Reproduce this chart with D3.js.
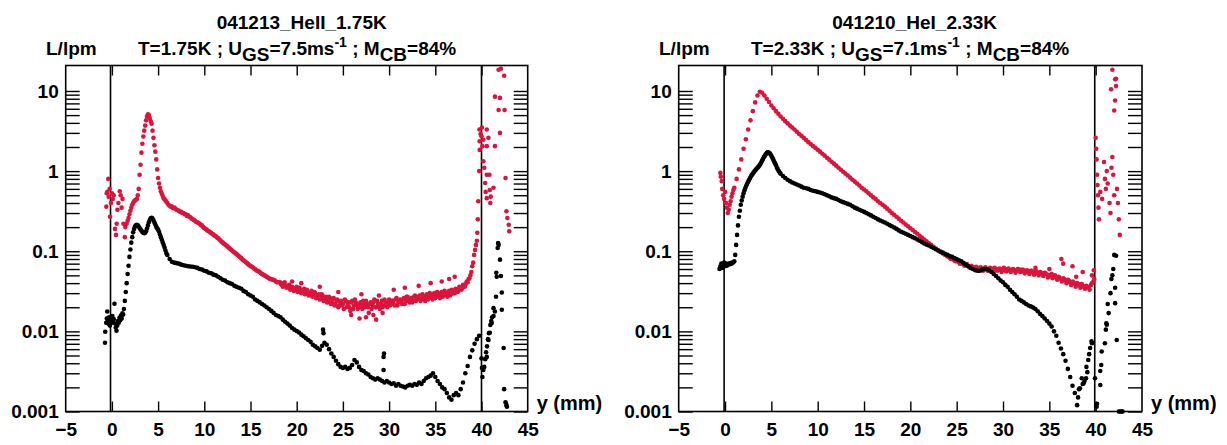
<!DOCTYPE html>
<html><head><meta charset="utf-8">
<script src="https://cdn.jsdelivr.net/npm/d3@7"></script>
<style>
html,body{margin:0;padding:0;background:#fff;}
svg{display:block;}
text{font-family:"Liberation Sans",Arial,sans-serif;font-weight:bold;fill:#000;}
</style></head><body>
<svg id="chart" width="1227" height="445"></svg>
<script>
// ---------------- DATA ----------------
const xTickValues = [-5,0,5,10,15,20,25,30,35,40,45];
const yDecades = [0.001,0.01,0.1,1,10];
const yDecadeLabels = ["0.001","0.01","0.1","1","10"];
const yUnit = "L/lpm";
const xUnit = "y (mm)";

const titles = ["041213_HeII_1.75K","041210_HeI_2.33K"];
const subT = ["1.75K","2.33K"];
const subU = ["7.5","7.1"];
const subM = ["84%","84%"];
const walls = [[-0.15,40.0],[-0.1,39.9]];

// panel 1, black series
const p1BlackWall0 = [[-0.75,0.0072],[-0.72,0.0099],[-0.62,0.0128],[-0.55,0.0145],[-0.5,0.0177],[-0.45,0.0135],[-0.38,0.0125],[-0.3,0.015],[-0.22,0.0118],[-0.12,0.0138],[-0.05,0.0128],[0.05,0.0155],[0.12,0.013],[0.2,0.0142],[0.28,0.0221],[0.35,0.0125],[0.42,0.0112],[0.5,0.0102],[0.58,0.0118],[0.66,0.0135],[0.74,0.0128],[0.82,0.0148],[0.9,0.0138],[0.98,0.0158],[1.06,0.0145],[1.14,0.0168],[1.22,0.0162],[1.3,0.019]];
const p1BlackRise = [0.024,0.031,0.04,0.052,0.066,0.085,0.105,0.128,0.15,0.172,0.19,0.203,0.211,0.214,0.21,0.203,0.195,0.187,0.18,0.174,0.17,0.168,0.17,0.178,0.192,0.21,0.23,0.247,0.258,0.262,0.255,0.243,0.229,0.215,0.202,0.193,0.186,0.175,0.162,0.15,0.139,0.129,0.12,0.111,0.102,0.094]; // x = 1.4 .. step 0.1
const p1BlackMain = [0.09,0.08,0.074,0.072,0.071,0.07,0.068,0.067,0.066,0.065,0.0645,0.064,0.063,0.062,0.06,0.059,0.057,0.056,0.054,0.053,0.051,0.05,0.048,0.046,0.044,0.043,0.041,0.04,0.039,0.037,0.036,0.035,0.034,0.032,0.031,0.029,0.028,0.027,0.025,0.024,0.023,0.022,0.021,0.02,0.019,0.018,0.017,0.016,0.0155,0.015,0.014,0.0132,0.0125,0.0118,0.011,0.0105,0.0101,0.0097,0.0091,0.0087,0.0082,0.0078,0.0074,0.0068,0.0065,0.0062,0.0059,0.0066,0.0072,0.0068,0.006,0.0053,0.0048,0.0043,0.0039,0.0036,0.0035,0.0036,0.0034,0.0035,0.0038,0.0044,0.0041,0.0036,0.0033,0.0032,0.003,0.0029,0.0027,0.0026,0.0025,0.0026,0.0025,0.0024,0.0023,0.0024,0.0023,0.0022,0.00225,0.0021,0.0022,0.0021,0.00205,0.002,0.0021,0.00215,0.0021,0.0022,0.00215,0.0023,0.0022,0.0024,0.0026,0.0027,0.0028,0.003,0.0027,0.0024,0.0022,0.002,0.0019,0.0017,0.0015,0.0014,0.0016,0.0017,0.0016,0.0019,0.0023,0.003,0.0037,0.0048,0.0058,0.007,0.008,0.0088]; // x = 6.0 .. step 0.25
const p1BlackOut = [[22.85,0.0105],[22.9,0.0095],[29.4,0.0048],[29.45,0.0053],[29.4,0.0033]];
const p1BlackWall40 = [[40.0,0.0046],[40.05,0.0035],[40.1,0.0027],[40.2,0.0033],[40.3,0.0036],[40.4,0.0045],[40.5,0.0055],[40.57,0.0048],[40.6,0.0065],[40.7,0.008],[40.75,0.0078],[40.8,0.0095],[40.9,0.0096],[40.95,0.012],[41.05,0.0135],[41.1,0.0127],[41.15,0.015],[41.3,0.0155],[41.3,0.0195],[41.45,0.0177],[41.57,0.027],[41.6,0.054],[41.65,0.048],[41.75,0.11],[41.8,0.127],[41.85,0.12],[42.0,0.0785],[42.1,0.049],[42.2,0.0305],[42.2,0.0186],[42.4,0.0062],[42.45,0.0019],[42.6,0.0013],[42.7,0.0012],[42.75,0.00115]];

// panel 1, red series
const p1RedWall0 = [[-0.6,0.36],[-0.56,0.53],[-0.5,0.55],[-0.39,0.8],[-0.35,0.48],[-0.25,0.6],[-0.2,0.27],[-0.1,0.4],[0.0,0.53],[0.1,0.45],[0.2,0.5],[0.34,0.19],[0.45,0.16],[0.52,0.22],[0.6,0.33],[0.7,0.4],[0.85,0.56],[0.95,0.5],[1.05,0.35],[1.15,0.45],[1.25,0.22],[1.4,0.15],[1.45,0.2]];
const p1RedRise = [0.22,0.24,0.26,0.29,0.32,0.35,0.38,0.4,0.42,0.43,0.44,0.45,0.5,0.6,0.9,1.2,1.7,2.2,2.7,3.2,3.7,4.3,4.8,5.1,5.0,4.6,4.2,3.9,3.2,2.6,2.1,1.75,1.4,1.05,0.82,0.7,0.62,0.56,0.52,0.49,0.46,0.445,0.43,0.415]; // x = 1.6 .. step 0.1
const p1RedMain = [0.4,0.37,0.36,0.35,0.33,0.32,0.31,0.3,0.29,0.28,0.265,0.25,0.24,0.23,0.22,0.21,0.195,0.186,0.178,0.17,0.161,0.154,0.146,0.136,0.128,0.121,0.115,0.108,0.102,0.097,0.092,0.087,0.082,0.077,0.073,0.069,0.066,0.063,0.06,0.057,0.055,0.052,0.05,0.048,0.046,0.045,0.044,0.042,0.041]; // x = 6.0 .. step 0.25
const p1RedMainB = [0.38,0.36,0.345,0.34,0.325,0.31,0.3,0.29,0.275,0.27,0.255,0.245,0.232,0.225,0.212,0.2,0.19,0.18,0.172,0.164,0.156,0.148,0.14,0.131,0.124,0.118,0.111,0.105,0.099,0.094,0.089,0.084,0.079,0.075,0.071,0.067,0.064,0.061,0.058,0.056,0.053,0.051,0.049,0.047,0.045,0.044,0.043,0.041]; // x = 6.125 .. step 0.25
const p1RedBand = [0.041,0.038,0.04,0.037,0.036,0.038,0.034,0.035,0.033,0.036,0.032,0.033,0.031,0.034,0.03,0.031,0.029,0.032,0.028,0.03,0.027,0.029,0.026,0.028,0.025,0.027,0.024,0.026,0.023,0.026,0.022,0.025,0.021,0.024,0.022,0.025,0.02,0.023,0.018,0.024,0.021,0.023,0.019,0.022,0.021,0.024,0.02,0.022,0.017,0.023,0.021,0.025,0.02,0.022,0.019,0.024,0.021,0.023,0.02,0.025,0.022,0.024,0.021,0.026,0.023,0.025,0.022,0.026,0.024,0.027,0.023,0.026,0.024,0.028,0.025,0.027,0.024,0.029,0.026,0.028,0.025,0.03,0.027,0.029,0.026,0.031,0.028,0.03,0.027,0.032,0.029,0.031,0.028,0.033,0.03,0.034,0.031,0.036,0.033,0.038,0.036,0.042,0.045,0.05]; // x = 18.2 .. step 0.2
const p1RedBandB = [0.039,0.036,0.041,0.035,0.037,0.033,0.036,0.032,0.034,0.031,0.035,0.03,0.032,0.029,0.033,0.028,0.03,0.027,0.031,0.026,0.028,0.025,0.029,0.024,0.026,0.023,0.027,0.022,0.025,0.021,0.024,0.02,0.023,0.021,0.019,0.024,0.022,0.02,0.023,0.019,0.025,0.021,0.02,0.023,0.019,0.022,0.024,0.02,0.022,0.019,0.023,0.02,0.024,0.021,0.022,0.02,0.025,0.021,0.023,0.021,0.024,0.022,0.025,0.021,0.024,0.023,0.025,0.022,0.027,0.024,0.025,0.023,0.027,0.024,0.026,0.028,0.025,0.027,0.024,0.029,0.026,0.028,0.025,0.03,0.027,0.029,0.026,0.031,0.028,0.03,0.027,0.032,0.029,0.031,0.03,0.033,0.032,0.035,0.034,0.037,0.039,0.041,0.046]; // x = 18.3 .. step 0.2
const p1RedOut = [[25.9,0.016],[26.8,0.0145],[27.5,0.015],[28.3,0.016],[28.6,0.014],[29.3,0.017],[30.5,0.033],[31.7,0.035],[33.2,0.037],[34.5,0.04],[35.7,0.042],[36.5,0.045],[37.1,0.048],[22.5,0.036],[24.5,0.031],[27.0,0.029],[28.9,0.028],[20.5,0.04],[19.5,0.042]];
const p1RedWall40 = [[38.9,0.055],[39.0,0.065],[39.1,0.072],[39.2,0.09],[39.3,0.104],[39.4,0.12],[39.5,0.135],[39.55,0.17],[39.6,0.25],[39.65,0.42],[39.75,1.0],[39.8,1.84],[39.8,2.36],[39.78,3.3],[39.9,2.9],[40.0,2.72],[40.05,3.5],[40.2,2.46],[40.1,2.05],[40.2,1.33],[40.4,0.71],[40.57,0.9],[40.85,0.9],[40.57,0.46],[40.9,0.58],[41.0,0.48],[41.3,0.62],[40.95,0.4],[40.57,3.3],[40.75,2.6],[40.57,2.05],[41.46,2.05],[42.0,3.0],[41.46,8.5],[42.0,8.2],[41.85,5.8],[42.5,5.8],[41.85,18.4],[42.1,19.0],[42.45,15.5],[42.6,0.82],[42.7,0.315],[42.8,0.26],[42.95,0.214],[43.0,0.177],[40.3,1.1],[40.45,0.55]];

// panel 2, black series
const p2BlackWall0 = [[-0.6,0.06],[-0.5,0.065],[-0.4,0.07],[-0.3,0.062],[-0.2,0.068],[-0.1,0.072],[0.0,0.065],[0.1,0.07],[0.2,0.066],[0.3,0.068],[0.4,0.07],[0.5,0.069],[0.6,0.071],[0.7,0.07],[0.8,0.072],[0.9,0.073]];
const p2BlackRise = [0.075,0.09,0.12,0.16,0.21,0.27,0.32,0.38,0.43,0.48,0.53,0.575,0.62,0.66,0.7,0.74,0.78,0.82,0.86,0.9,0.93,0.965,1.0,1.035,1.07,1.1,1.13,1.17,1.22,1.28,1.35,1.42,1.5,1.56,1.62,1.68,1.72,1.71,1.68,1.62,1.55,1.48,1.4,1.32,1.25,1.18,1.1,1.05,1.0,0.96]; // x = 1.0 .. step 0.1
const p2BlackMain = [0.93,0.87,0.82,0.78,0.75,0.72,0.7,0.68,0.66,0.64,0.62,0.61,0.6,0.58,0.57,0.56,0.55,0.54,0.53,0.515,0.5,0.485,0.47,0.46,0.45,0.435,0.42,0.41,0.4,0.39,0.38,0.365,0.35,0.34,0.33,0.32,0.31,0.3,0.29,0.28,0.27,0.26,0.25,0.242,0.235,0.228,0.22,0.212,0.205,0.198,0.19,0.182,0.175,0.17,0.165,0.16,0.155,0.15,0.145,0.14,0.135,0.13,0.125,0.121,0.118,0.114,0.11,0.106,0.102,0.099,0.096,0.093,0.09,0.087,0.085,0.082,0.08,0.077,0.075,0.071,0.068,0.065,0.062,0.06,0.058,0.057,0.057,0.059,0.06,0.06,0.058,0.055,0.052,0.049,0.046,0.043,0.041,0.038,0.036,0.033,0.031,0.029,0.027,0.025,0.024,0.023,0.022,0.021,0.0205,0.0198,0.019,0.0178,0.0165,0.0155,0.0145,0.0135,0.0125,0.0115,0.01,0.0088,0.0072,0.0061,0.0052,0.0043,0.0034,0.0027,0.0021,0.0017,0.0012]; // x = 6.0 .. step 0.25
const p2BlackWall40 = [[38.1,0.0015],[38.2,0.0019],[38.3,0.00195],[38.5,0.0026],[38.6,0.0022],[38.7,0.00225],[38.8,0.0024],[38.96,0.0026],[39.0,0.0036],[39.1,0.0031],[39.2,0.0044],[39.3,0.0052],[39.4,0.0062],[39.55,0.0075],[39.6,0.0071],[39.93,0.0026],[40.1,0.00115],[40.15,0.00125],[40.5,0.00214],[40.5,0.0032],[40.6,0.0038],[40.65,0.0056],[41.0,0.0071],[41.1,0.0105],[41.2,0.0121],[41.15,0.0126],[41.3,0.022],[41.4,0.0169],[41.6,0.03],[41.7,0.045],[41.8,0.05],[41.9,0.06],[42.0,0.09],[42.2,0.088],[42.1,0.035],[42.1,0.0225],[42.27,0.0078],[42.5,0.001],[42.65,0.001],[42.8,0.001],[42.9,0.001]];

// panel 2, red series
const p2RedWall0 = [[-0.5,0.95],[-0.45,0.85],[-0.35,0.75],[-0.3,0.6],[-0.2,0.5],[-0.1,0.45],[0.0,0.55],[0.1,0.4],[0.2,0.35],[0.3,0.3],[0.4,0.33],[0.5,0.38],[0.6,0.42],[0.7,0.48],[0.8,0.53],[0.9,0.58]];
const p2RedMain = [0.62,0.8,1.05,1.4,1.9,2.5,3.3,4.3,5.6,7.2,8.8,9.8,9.5,8.8,8.0,7.3,6.6,6.1,5.6,5.2,4.8,4.5,4.2,3.95,3.7,3.5,3.3,3.1,2.9,2.75,2.6,2.45,2.3,2.18,2.05,1.95,1.85,1.75,1.65,1.56,1.47,1.39,1.31,1.24,1.17,1.1,1.04,0.98,0.93,0.88,0.83,0.78,0.74,0.7,0.66,0.62,0.59,0.56,0.53,0.5,0.47,0.45,0.42,0.4,0.38,0.36,0.34,0.32,0.3,0.285,0.27,0.255,0.24,0.228,0.216,0.205,0.194,0.184,0.174,0.165,0.156,0.148,0.14,0.133,0.126,0.12,0.114,0.108,0.103,0.098,0.094,0.09,0.086,0.083,0.08,0.077,0.075,0.073,0.071,0.069,0.067,0.066,0.064,0.063,0.062,0.061,0.062,0.06,0.061,0.059,0.06,0.061,0.059,0.06,0.058,0.06,0.059,0.058,0.06,0.057,0.059,0.058,0.057,0.059,0.056,0.058,0.056,0.055,0.057,0.054,0.056,0.053,0.055,0.052,0.054,0.051,0.05,0.052,0.049,0.047,0.048,0.045,0.046,0.043,0.044,0.041,0.042,0.039,0.04,0.038,0.039,0.036,0.037,0.035,0.038,0.042]; // x = 1.0 .. step 0.25
const p2RedBandB = [0.088,0.08,0.081,0.075,0.076,0.07,0.072,0.066,0.069,0.063,0.066,0.06,0.064,0.058,0.063,0.057,0.063,0.057,0.062,0.056,0.062,0.057,0.061,0.055,0.062,0.056,0.061,0.055,0.06,0.054,0.06,0.055,0.059,0.053,0.058,0.052,0.057,0.051,0.056,0.05,0.054,0.049,0.053,0.047,0.05,0.046,0.05,0.044,0.047,0.042,0.045,0.04,0.043,0.038,0.041,0.036,0.039,0.035,0.037,0.034,0.036,0.033,0.04,0.045]; // x = 24.1 .. step 0.25
const p2RedOut = [[36.3,0.08],[36.5,0.07],[37.5,0.065],[38.6,0.055],[35.0,0.06],[33.5,0.062],[37.9,0.048],[39.6,0.05],[39.8,0.058]];
const p2RedWall40 = [[40.0,2.6],[40.05,1.9],[40.1,1.4],[40.15,0.9],[40.2,0.67],[40.25,0.5],[40.3,0.35],[40.35,0.25],[40.5,0.55],[40.7,0.45],[40.9,1.3],[41.0,0.8],[41.1,0.6],[41.2,1.0],[41.3,0.7],[41.5,0.4],[41.6,0.3],[41.7,1.1],[41.8,1.5],[41.9,0.9],[42.0,0.5],[42.3,0.6],[42.4,0.4],[42.5,0.25],[42.6,0.16],[41.8,18.4],[42.1,14.0],[42.2,14.2],[41.66,10.5],[42.2,11.5],[42.1,7.6],[42.0,5.7]];

// ---------------- BUILD ----------------
function grid(x0, step, ys){ return ys.map((v,i)=>[+(x0+i*step).toFixed(3), v]); }

const series = [
  { black: [].concat(p1BlackWall0, grid(1.4,0.1,p1BlackRise), grid(6.0,0.25,p1BlackMain), p1BlackOut, p1BlackWall40),
    red:   [].concat(p1RedWall0, grid(1.6,0.1,p1RedRise), grid(6.0,0.25,p1RedMain), grid(6.125,0.25,p1RedMainB),
                     grid(18.2,0.2,p1RedBand), grid(18.3,0.2,p1RedBandB), p1RedOut, p1RedWall40) },
  { black: [].concat(p2BlackWall0, grid(1.0,0.1,p2BlackRise), grid(6.0,0.25,p2BlackMain), p2BlackWall40),
    red:   [].concat(p2RedWall0, grid(1.0,0.25,p2RedMain), grid(24.1,0.25,p2RedBandB), p2RedOut, p2RedWall40) }
];

const svg = d3.select("#chart");
svg.append("rect").attr("width",1227).attr("height",445).attr("fill","#fff");

const layouts = [{L:65.7,R:527.7},{L:678.7,R:1142}];
const TOP = 65.5, BOT = 411.5;
const FS = 19;

const minorTicks = [];
for (let e=-3;e<=1;e++) for (let k=1;k<=9;k++){ const v=k*Math.pow(10,e); if (v<=10.0001) minorTicks.push(+v.toPrecision(3)); }

layouts.forEach((lay,pi)=>{
  const g = svg.append("g");
  const x = d3.scaleLinear().domain([-5,45]).range([lay.L,lay.R]);
  const y = d3.scaleLog().domain([0.001,20.8]).range([BOT,TOP]);

  g.append("rect").attr("x",lay.L).attr("y",TOP).attr("width",lay.R-lay.L).attr("height",BOT-TOP)
    .attr("fill","none").attr("stroke","#000").attr("stroke-width",1.6);

  const la = g.append("g").attr("transform",`translate(${lay.L},0)`)
    .call(d3.axisRight(y).tickValues(minorTicks).tickSize(14).tickFormat(""));
  const ra = g.append("g").attr("transform",`translate(${lay.R},0)`)
    .call(d3.axisLeft(y).tickValues(minorTicks).tickSize(14).tickFormat(""));
  const ll = g.append("g").attr("transform",`translate(${lay.L},0)`)
    .call(d3.axisLeft(y).tickValues(yDecades).tickSize(0).tickPadding(7).tickFormat((d,i)=>yDecadeLabels[i]));
  const ta = g.append("g").attr("transform",`translate(0,${TOP})`)
    .call(d3.axisBottom(x).tickValues(xTickValues.slice(1,-1)).tickSize(10).tickFormat(""));
  const ba = g.append("g").attr("transform",`translate(0,${BOT})`)
    .call(d3.axisTop(x).tickValues(xTickValues.slice(1,-1)).tickSize(10).tickFormat(""));
  const bl = g.append("g").attr("transform",`translate(0,${BOT})`)
    .call(d3.axisBottom(x).tickValues(xTickValues).tickSize(0).tickPadding(11).tickFormat(d3.format("d")));

  [la,ra,ll,ta,ba,bl].forEach(a=>{
    a.select(".domain").remove();
    a.selectAll("line").attr("stroke","#000").attr("stroke-width",1.4);
    a.selectAll("text").attr("font-size",FS).attr("font-family",null).attr("fill","#000");
  });

  g.selectAll(".wall").data(walls[pi]).enter().append("line")
    .attr("x1",d=>x(d)).attr("x2",d=>x(d)).attr("y1",TOP).attr("y2",BOT)
    .attr("stroke","#000").attr("stroke-width",1.6);

  const inDomain = d=> d[1]>=0.001 && d[1]<=20.8;
  g.append("g").selectAll("circle").data(series[pi].red.filter(inDomain)).enter().append("circle")
    .attr("cx",d=>x(d[0])).attr("cy",d=>y(d[1])).attr("r",2.3).attr("fill","#dc143c");
  g.append("g").selectAll("circle").data(series[pi].black.filter(inDomain)).enter().append("circle")
    .attr("cx",d=>x(d[0])).attr("cy",d=>y(d[1])).attr("r",2.3).attr("fill","#000");

  g.append("text").attr("x",lay.L+236).attr("y",28.5).attr("text-anchor","middle").attr("font-size",FS).text(titles[pi]);
  g.append("text").attr("x",lay.L-19.7).attr("y",55).attr("font-size",FS).text(yUnit);
  const st = g.append("text").attr("x",lay.L+72.3).attr("y",55).attr("font-size",FS);
  st.append("tspan").text(`T=${subT[pi]} ; U`);
  st.append("tspan").attr("dy",6).text("GS");
  st.append("tspan").attr("dy",-6).text(`=${subU[pi]}ms`);
  st.append("tspan").attr("dy",-8).attr("font-size",14).text("-1");
  st.append("tspan").attr("dy",8).text(" ; M");
  st.append("tspan").attr("dy",6).text("CB");
  st.append("tspan").attr("dy",-6).text(`=${subM[pi]}`);
  g.append("text").attr("x",lay.R+9).attr("y",410).attr("font-size",FS+1).text(xUnit);
});
</script>
</body></html>
